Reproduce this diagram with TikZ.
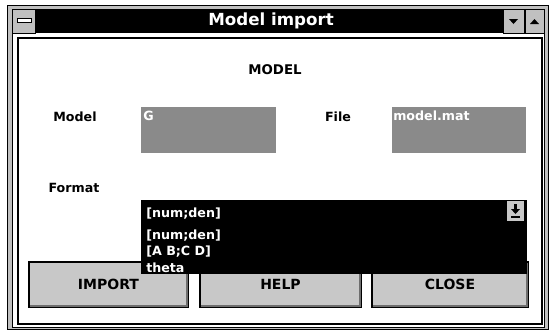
\documentclass[tikz,border=0pt]{standalone}
\usepackage{fontspec}
\setmainfont{DejaVu Sans}
\definecolor{framegray}{RGB}{192,192,192}
\definecolor{fieldgray}{RGB}{138,138,138}
\definecolor{btngray}{RGB}{200,200,200}
\definecolor{shadegray}{RGB}{110,110,110}

\begin{document}
\begin{tikzpicture}[x=0.75pt,y=-0.75pt,
	lbl/.style={font=\fontsize{9.5}{11}\selectfont\bfseries, inner sep=0pt},
	whitetxt/.style={font=\fontsize{9.5}{11}\selectfont\bfseries, text=white, inner sep=0pt, anchor=west},
	btn/.style={draw=black, line width=0.9pt, fill=btngray, minimum height=33.75pt, inner sep=0pt,
		font=\fontsize{10.5}{12}\selectfont\bfseries},
	shade/.style={draw=shadegray, line width=1.5pt},
	field/.style={fill=fieldgray}
]
	\useasboundingbox (0,0) rectangle (550,330);

	% Window frame
	\draw[fill=framegray, line width=0.75pt] (7,5) rectangle (548,329);
	\draw[fill=white, line width=0.75pt] (12,9) rectangle (544,327);
	% Title bar
	\fill[black] (12,9) rectangle (544,33);
	\node (title) at (271,21) [text=white, inner sep=0pt, font=\fontsize{12.5}{14}\selectfont\bfseries] {Model import};
	% system menu box
	\draw[fill=framegray, line width=0.75pt] (12,9) rectangle (35,33);
	\draw[fill=white, line width=0.75pt] (17,18.5) rectangle (31,22.5);
	% minimize / maximize boxes
	\draw[fill=framegray, line width=0.75pt] (503,9) rectangle (524,33);
	\fill (509,19) -- (518,19) -- (513.5,24) -- cycle;
	\draw[fill=framegray, line width=0.75pt] (525,9) rectangle (544,33);
	\fill (530,24) -- (539,24) -- (534.5,19) -- cycle;

	% Inner panel
	\draw[line width=0.9pt] (18,38) rectangle (542,324);

	\node (heading) at (275,70) [lbl, font=\fontsize{10}{12}\selectfont\bfseries] {MODEL};

	% Model and File fields
	\node (modellbl) at (75,117) [lbl] {Model};
	\fill[field] (141,107) rectangle (276,153);
	\node (modelval) at (143,116) [whitetxt] {G};

	\node (filelbl) at (338,117) [lbl] {File};
	\fill[field] (392,107) rectangle (526,153);
	\node (fileval) at (393,116) [whitetxt] {model.mat};

	\node (formatlbl) at (74,188) [lbl] {Format};

	% Buttons
	\node (import) at (108.5,284.5) [btn, minimum width=119.25pt] {IMPORT};
	\node (help) at (280.5,284.5) [btn, minimum width=120.75pt] {HELP};
	\node (close) at (450,284.5) [btn, minimum width=117pt] {CLOSE};
	\foreach \b in {import,help,close}{
		\draw[shade] ([xshift=1.5pt,yshift=1.3pt]\b.south west) -- ([xshift=-1.3pt,yshift=1.3pt]\b.south east)
			-- ([xshift=-1.3pt,yshift=-1.5pt]\b.north east);
	}

	% Format drop-down list
	\fill[black] (141,200) rectangle (527,274);
	\node (current) at (146,214) [whitetxt] {[num;den]};
	\node (opt1) at (146,236) [whitetxt] {[num;den]};
	\node (opt2) at (146,252) [whitetxt] {[A B;C D]};
	\node (opt3) at (146,268) [whitetxt] {theta};
	% drop-down button
	\fill[btngray] (507,201) rectangle (524,221);
	\fill (514,204) rectangle (517,209);
	\fill (511,209) -- (520,209) -- (515.5,214) -- cycle;
	\fill (511,216) rectangle (520,218);

\end{tikzpicture}
\end{document}
